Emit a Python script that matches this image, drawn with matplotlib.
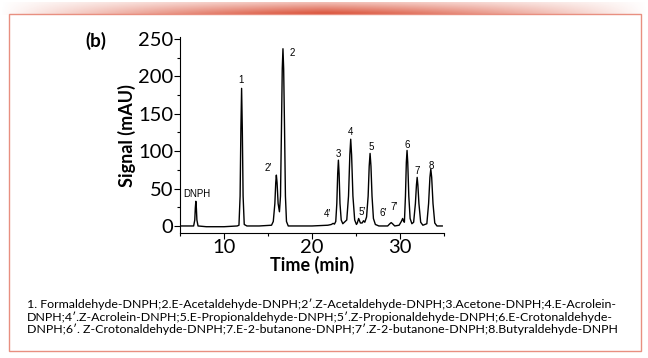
import numpy as np
import matplotlib
matplotlib.use("Agg")
import matplotlib.pyplot as plt
from matplotlib.patches import Rectangle
from matplotlib.ticker import MultipleLocator

# trace (time in min, signal in mAU)
time = [5.1, 6.55, 6.68, 6.74, 6.8, 6.86, 6.92, 7.05, 8.0, 10.0, 11.5,
        11.7, 11.83, 11.92, 12.0, 12.08, 12.17, 12.3, 12.6, 14.0, 15.4,
        15.6, 15.78, 15.88, 15.95, 16.03, 16.15, 16.3, 16.42, 16.53, 16.62, 16.7, 16.78, 16.88, 16.98, 17.1, 17.3,
        20.0, 21.8, 22.2, 22.4, 22.55,
        22.7, 22.82, 22.92, 23.0, 23.08, 23.18, 23.32, 23.5,
        23.95, 24.15, 24.3, 24.4, 24.5, 24.65, 24.85, 25.05,
        25.15, 25.3, 25.5, 25.7, 25.85, 26.0,
        26.2, 26.38, 26.5, 26.6, 26.7, 26.82, 26.98, 27.2, 27.6,
        28.6, 28.85, 29.0, 29.15, 29.4,
        29.9, 30.15, 30.3, 30.42,
        30.5, 30.62, 30.72, 30.8, 30.88, 31.0, 31.15, 31.35,
        31.55, 31.75, 31.87, 31.95, 32.03, 32.15, 32.35, 32.6,
        33.05, 33.25, 33.4, 33.5, 33.6, 33.75, 33.95, 34.2, 34.8]
signal = [0, 0, 8, 24, 33, 24, 8, 0, -1, -1, 0,
          1, 40, 130, 184, 130, 40, 2, 0, 0, 1,
          6, 30, 58, 68, 58, 30, 19, 40, 130, 210, 237, 210, 130, 40, 6, 0,
          0, 1, 2, 3.5, 2.5,
          6, 30, 70, 88, 70, 30, 8, 3,
          8, 40, 95, 116, 95, 40, 8, 2,
          4, 10, 4, 4, 7, 5,
          12, 40, 80, 97, 80, 40, 10, 2, 0,
          0, 3, 4.5, 3, 0,
          1, 6, 10, 6,
          5, 40, 85, 101, 85, 40, 10, 3,
          5, 30, 55, 65, 55, 30, 5, 1,
          3, 30, 65, 76, 65, 30, 4, 0, 0]

peak_labels = ["DNPH", "1", "2", "2\u2032", "4\u2032", "3", "4", "5\u2032", "5", "6\u2032", "7\u2032", "6", "7", "8"]
label_t = [6.95, 11.95, 17.8, 15.0, 21.8, 22.95, 24.4, 25.7, 26.7, 28.1, 29.3, 30.8, 31.95, 33.6]
label_s = [43, 195, 231, 78, 16, 96, 126, 19, 106, 17, 25, 108, 73, 80]

caption = ("1. Formaldehyde-DNPH;2.E-Acetaldehyde-DNPH;2\u2032.Z-Acetaldehyde-DNPH;3.Acetone-DNPH;4.E-Acrolein-\n"
           "DNPH;4\u2032.Z-Acrolein-DNPH;5.E-Propionaldehyde-DNPH;5\u2032.Z-Propionaldehyde-DNPH;6.E-Crotonaldehyde-\n"
           "DNPH;6\u2032. Z-Crotonaldehyde-DNPH;7.E-2-butanone-DNPH;7\u2032.Z-2-butanone-DNPH;8.Butyraldehyde-DNPH")

W, H = 648, 358
fam = ["Lato", "DejaVu Sans"]
fig = plt.figure(figsize=(W / 100, H / 100), dpi=100)

# red gradient band on top
band = fig.add_axes([0, 1 - 15 / H, 1, 13 / H])
xs = np.linspace(-1, 1, 400)
a_h = np.clip(1 - np.abs(xs) ** 1.3, 0, 1)
a_v = np.linspace(0.35, 1, 20)[:, None]
rgba = np.zeros((20, 400, 4))
rgba[..., 0] = 0.85
rgba[..., 1] = 0.28
rgba[..., 2] = 0.18
rgba[..., 3] = a_v * a_h[None, :]
band.imshow(rgba, aspect="auto", extent=[0, 1, 0, 1])
band.axis("off")

# frame
fig.patches.append(Rectangle((9 / W, 1 - 351 / H), 632 / W, 337 / H, transform=fig.transFigure,
                             fill=False, edgecolor="#e88f80", lw=1.0))

ax = fig.add_axes([180 / W, 1 - 233 / H, 264 / W, (233 - 37.5) / H])
ax.plot(time, signal, color="black", lw=1.0, solid_joinstyle="round")
ax.set_xlim(5, 35)
ax.set_ylim(-9.4, 252)
ax.xaxis.set_major_locator(MultipleLocator(10))
ax.xaxis.set_minor_locator(MultipleLocator(5))
ax.yaxis.set_major_locator(MultipleLocator(50))
ax.yaxis.set_minor_locator(MultipleLocator(25))
ax.spines["top"].set_visible(False)
ax.spines["right"].set_visible(False)
ax.tick_params(which="major", length=4, width=0.8, labelsize=14.5, pad=1)
ax.tick_params(axis="x", which="major", pad=0)
ax.tick_params(which="minor", length=2.5, width=0.8)
for lab in ax.get_xticklabels() + ax.get_yticklabels():
    lab.set_family(fam)
ax.set_xlabel("Time (min)", fontsize=13, fontweight="bold", family=fam, labelpad=0)
ax.set_ylabel("Signal (mAU)", fontsize=13, fontweight="bold", family=fam, labelpad=1)

for name, t, s in zip(peak_labels, label_t, label_s):
    ax.text(t, s, name, fontsize=7, ha="center", va="center", family=["Liberation Sans", "DejaVu Sans"])

fig.text(85 / W, 1 - 41 / H, "(b)", fontsize=13.5, fontweight="bold", family=fam, va="center")
fig.text(27 / W, 1 - 317 / H, caption, fontsize=8.9, family=fam, va="center", linespacing=1.12)

fig.savefig("out.png", dpi=100)
